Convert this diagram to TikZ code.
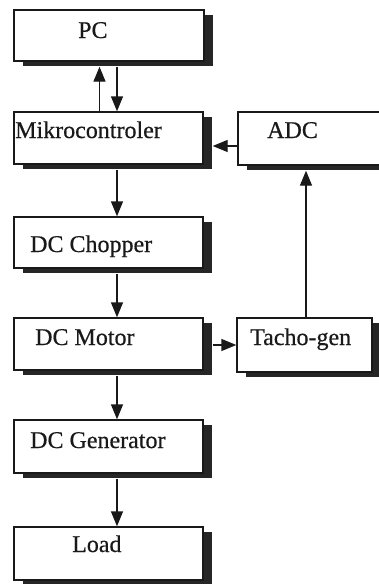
\documentclass[tikz,border=0pt]{standalone}
\usepackage{fontspec}
\setmainfont{Liberation Serif}
\newfontfamily\lblfont[FakeBold=0.5]{Liberation Serif}
\usetikzlibrary{arrows.meta,shadows}
\begin{document}
\begin{tikzpicture}[x=1pt,y=-1pt,
  box/.style={draw=black!90, line width=1.4pt, fill=white, inner sep=0pt,
    drop shadow={shadow xshift=9pt, shadow yshift=-5pt, fill=black!85, opacity=1}},
  lbl/.style={inner sep=0pt, anchor=base west, text=black!90,
    font=\lblfont\fontsize{24}{28}\selectfont},
  arr/.style={draw=black!90, line width=1.4pt,
    -{Triangle[length=15pt,width=12pt]}}]
\useasboundingbox[fill=white] (0,0) rectangle (379,584);
% boxes
\node[box, minimum width=190pt, minimum height=51pt] (pc)    at (109,35.5) {};
\node[box, minimum width=189pt, minimum height=52pt] (mikro) at (108.5,138) {};
\node[box, minimum width=143pt, minimum height=53pt] (adc)   at (309.5,138.5) {};
\node[box, minimum width=189pt, minimum height=51pt] (chop)  at (108.5,242.5) {};
\node[box, minimum width=189pt, minimum height=52pt] (motor) at (108.5,344) {};
\node[box, minimum width=135pt, minimum height=54pt] (tacho) at (304.5,345) {};
\node[box, minimum width=189pt, minimum height=53pt] (gen)   at (108.5,446.5) {};
\node[box, minimum width=189pt, minimum height=53pt] (load)  at (108.5,553.5) {};
% labels
\node[lbl] (tpc)    at (78,38)   {PC};
\node[lbl] (tmikro) at (15,138)  {Mikrocontroler};
\node[lbl] (tadc)   at (267,138) {ADC};
\node[lbl] (tchop)  at (30,252)  {DC Chopper};
\node[lbl] (tmotor) at (35,345)  {DC Motor};
\node[lbl] (ttacho) at (250,345) {Tacho-gen};
\node[lbl] (tgen)   at (30,448)  {DC Generator};
\node[lbl] (tload)  at (72,552)  {Load};
% connectors
\draw[arr, shorten >=5pt] ([xshift=-9pt]mikro.north) -- ([xshift=-9pt]mikro.north |- pc.south);
\draw[arr, shorten <=5pt] ([xshift=8pt]pc.south) -- ([xshift=8pt]pc.south |- mikro.north);
\draw[arr, shorten <=5pt] ([xshift=8.5pt]mikro.south) -- ([xshift=8.5pt]chop.north);
\draw[arr, shorten <=5pt] ([xshift=8.5pt]chop.south) -- ([xshift=8.5pt]motor.north);
\draw[arr, shorten <=5pt] ([xshift=8.5pt]motor.south) -- ([xshift=8.5pt]gen.north);
\draw[arr, shorten <=5pt] ([xshift=8.5pt]gen.south) -- ([xshift=8.5pt]load.north);
\draw[arr, shorten >=9pt] ([yshift=-7.5pt]adc.west) -- ([yshift=-7.5pt]adc.west -| mikro.east);
\draw[arr, shorten <=9pt] (motor.east |- tacho.west) -- (tacho.west);
\draw[arr, shorten >=5pt] ([xshift=1.5pt]tacho.north) -- ([xshift=1.5pt]tacho.north |- adc.south);
\end{tikzpicture}
\end{document}
